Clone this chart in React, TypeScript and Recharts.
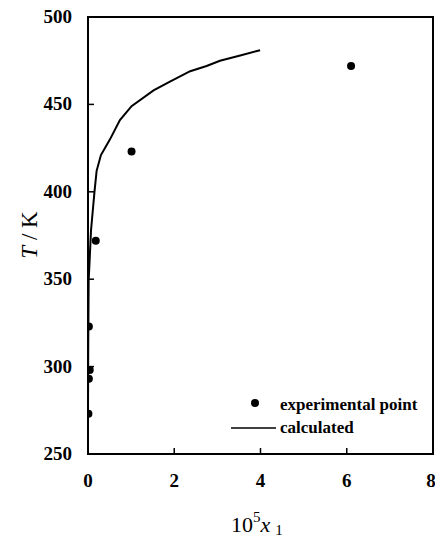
import React from "react";
import {
  ComposedChart,
  Line,
  Scatter,
  XAxis,
  YAxis,
  ReferenceArea,
} from "recharts";

const expX = [0.01, 0.02, 0.04, 0.02, 0.18, 1.01, 6.1];
const expT = [273, 293, 298, 323, 372, 423, 472];

const calcX = [0, 0.005, 0.015, 0.07, 0.15, 0.2, 0.3, 0.51, 0.74, 1.01, 1.52, 1.9, 2.37, 2.75, 3.06, 3.53, 3.99];
const calcT = [273, 310, 349, 378, 400, 412, 421, 430, 441, 449, 458, 463, 469, 472, 475, 478, 481];

const xTicks = [0, 2, 4, 6, 8];
const yTicks = [250, 300, 350, 400, 450, 500];

const legendLabels = ["experimental point", "calculated"];

const expData = expX.map((x, i) => ({ x, t: expT[i] }));
const calcData = calcX.map((x, i) => ({ x, t: calcT[i] }));

const FONT = "'Liberation Serif', 'Times New Roman', serif";

const XTick = (props: any) => {
  const { x, y, payload } = props;
  const showLine = payload.value !== 0 && payload.value !== 8;
  return (
    <g>
      {showLine && <line x1={x} x2={x} y1={y} y2={y - 6} stroke="#000" strokeWidth={1.5} />}
      <text x={x} y={y + 33} textAnchor="middle" fontFamily={FONT} fontSize={19} fontWeight="bold" fill="#000">
        {payload.value}
      </text>
    </g>
  );
};

const YTick = (props: any) => {
  const { x, y, payload } = props;
  const showLine = payload.value !== 250 && payload.value !== 500;
  return (
    <g>
      {showLine && <line x1={x} x2={x + 6} y1={y} y2={y} stroke="#000" strokeWidth={1.5} />}
      <text x={x - 16} y={y + 6} textAnchor="end" fontFamily={FONT} fontSize={19} fontWeight="bold" fill="#000">
        {payload.value}
      </text>
    </g>
  );
};

export default function App() {
  return (
    <div style={{ position: "absolute", left: 0, top: 0, width: 435, height: 537, background: "#fff" }}>
      <ComposedChart width={435} height={537} margin={{ top: 17, right: 2, left: 28, bottom: 43 }}>
        <XAxis
          type="number"
          dataKey="x"
          domain={[0, 8]}
          ticks={xTicks}
          tickSize={0}
          tickMargin={0}
          tickLine={false}
          tick={<XTick />}
          axisLine={{ stroke: "#000", strokeWidth: 2 }}
          height={40}
          allowDataOverflow
        />
        <YAxis
          type="number"
          dataKey="t"
          domain={[250, 500]}
          ticks={yTicks}
          tickSize={0}
          tickMargin={0}
          tickLine={false}
          tick={<YTick />}
          axisLine={{ stroke: "#000", strokeWidth: 2 }}
          width={60}
          allowDataOverflow
        />
        <ReferenceArea x1={0} x2={8} y1={250} y2={500} fill="none" stroke="#000" strokeWidth={2} fillOpacity={0} />
        <Line
          data={calcData}
          dataKey="t"
          type="linear"
          stroke="#000"
          strokeWidth={2}
          dot={false}
          isAnimationActive={false}
        />
        <Scatter
          data={expData}
          dataKey="t"
          fill="#000"
          isAnimationActive={false}
          shape={(p: any) => <circle cx={p.cx} cy={p.cy} r={4} fill="#000" />}
        />
      </ComposedChart>
      <svg width={435} height={537} style={{ position: "absolute", left: 0, top: 0, pointerEvents: "none" }}>
        <g>
          <circle cx={255} cy={403} r={4} fill="#000" />
          <text x={280} y={410} fontFamily={FONT} fontSize={17} fontWeight="bold" fill="#000">
            {legendLabels[0]}
          </text>
          <line x1={231} x2={276} y1={428} y2={428} stroke="#000" strokeWidth={1.5} />
          <text x={280} y={433} fontFamily={FONT} fontSize={17} fontWeight="bold" fill="#000">
            {legendLabels[1]}
          </text>
        </g>
        <text
          transform="translate(37,235) rotate(-90)"
          textAnchor="middle"
          fontFamily={FONT}
          fontSize={23}
          fill="#000"
        >
          <tspan fontStyle="italic">T</tspan>
          <tspan> / K</tspan>
        </text>
        <text x={231} y={532} fontFamily={FONT} fontSize={22} fill="#000">
          <tspan>10</tspan>
          <tspan fontSize={15} dy={-10}>5</tspan>
          <tspan fontStyle="italic" dy={10} dx={0}>x</tspan>
          <tspan fontSize={15} dy={3} dx={5}>1</tspan>
        </text>
      </svg>
    </div>
  );
}
